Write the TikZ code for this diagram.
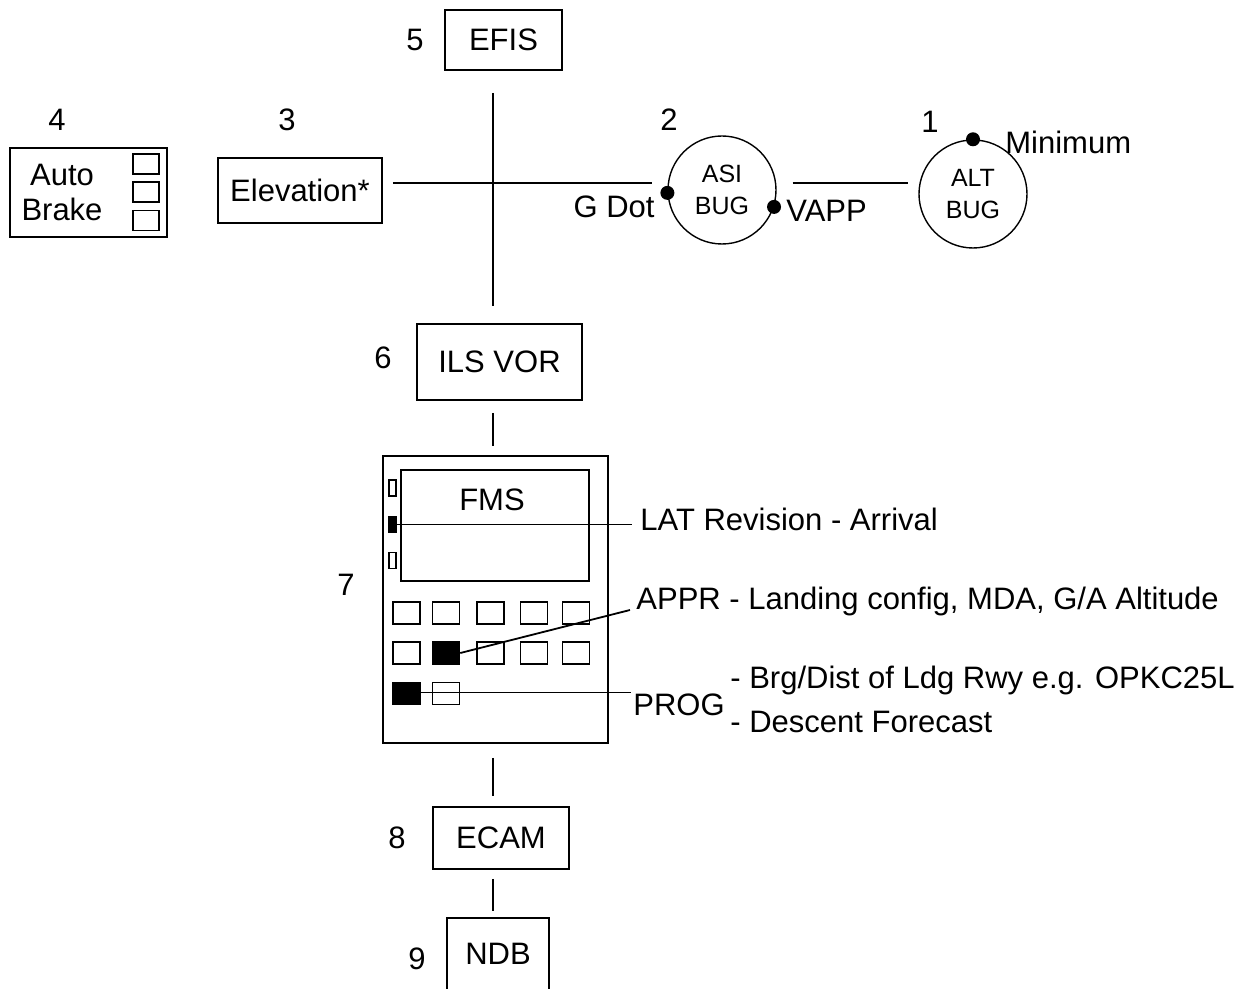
\documentclass[tikz,border=0pt]{standalone}
\usepackage{fontspec}
\setmainfont{Liberation Sans}
\usetikzlibrary{positioning}

\begin{document}
\begin{tikzpicture}[x=0.5pt,y=-0.5pt,font=\fontsize{15.5}{17.5}\selectfont,
  box/.style={draw,line width=0.8pt,inner sep=0pt},
  key/.style={draw,line width=0.8pt,inner sep=0pt,minimum width=13.5pt,minimum height=11pt},
  lsk/.style={draw,line width=0.8pt,inner sep=0pt,minimum width=3.5pt,minimum height=8pt},
  bug/.style={circle,draw,line width=0.7pt,inner sep=0pt,minimum size=54pt,align=center,
    font=\fontsize{12.5}{16}\selectfont},
  dot/.style={circle,fill,inner sep=0pt,minimum size=7pt},
  lbl/.style={inner sep=0pt},
  link/.style={line width=0.9pt}]
\useasboundingbox (0,0) rectangle (1248,989);
\clip (0,0) rectangle (1248,989);
\node[box,minimum width=58.5pt,minimum height=30pt] (efis) at (503.5,40) {EFIS};
\node[lbl] (num5) at (415,40) {5};
\node[box,minimum width=78.5pt,minimum height=44.5pt] (abrake) at (88.5,192.5) {};
\node[lbl,align=center] (abtext) at (62,192.5) {Auto\\Brake};
\node[box,minimum width=13pt,minimum height=10pt] (ab1) at (146,164) {};
\node[box,minimum width=13pt,minimum height=10pt] (ab2) at (146,192) {};
\node[box,minimum width=13pt,minimum height=10pt] (ab3) at (146,220.5) {};
\node[lbl] (num4) at (57,120) {4};
\node[box,minimum width=82pt,minimum height=32.5pt] (elev) at (300,190.5) {Elevation*};
\node[lbl] (num3) at (287,120) {3};
\node[bug] (asi) at (722,190) {ASI\\BUG};
\node[lbl] (num2) at (669,120) {2};
\node[bug] (alt) at (973,194) {ALT\\BUG};
\node[lbl] (num1) at (930,122) {1};
\node[dot] (gdot) at (asi.183) {};
\node[dot] (vapp) at (asi.342) {};
\node[dot] (mini) at (alt.90) {};
\node[lbl,anchor=east] (gdotlbl) at (655,207) {G Dot};
\node[lbl,anchor=west] (vapplbl) at (786,211) {VAPP};
\node[lbl,anchor=west] (minilbl) at (1005,142) {Minimum};
\coordinate (hub) at (493,183);
\draw[link,shorten <=5pt,shorten >=7.5pt] (elev.east |- hub) -- (asi.west |- hub);
\draw[link,shorten <=8pt,shorten >=5pt] (asi.east |- hub) -- (alt.west |- hub);
\node[box,minimum width=82.5pt,minimum height=38pt] (ils) at (499.5,362) {ILS VOR};
\node[lbl] (num6) at (383,358) {6};
\draw[link,shorten <=11pt,shorten >=8.5pt] (hub |- efis.south) -- (hub |- ils.north);
\node[box,minimum width=112.5pt,minimum height=143.5pt] (fms) at (495.5,599.5) {};
\node[box,minimum width=94pt,minimum height=55.5pt] (screen) at (495,525.5) {};
\node[lbl] (fmstext) at (492,500) {FMS};
\node[lbl] (num7) at (346,585) {7};
\node[lsk] (lk1) at (392.5,488) {};
\node[lsk,fill] (lk2) at (392.5,524.5) {};
\node[lsk] (lk3) at (392.5,560.5) {};
\foreach \c/\x in {1/406.5,2/446,3/490.5,4/534,5/576}{
  \node[key] (k-1-\c) at (\x,613) {};
  \node[key] (k-2-\c) at (\x,653) {};
}
\node[key] (k-3-1) at (406.5,693.5) {};
\node[key] (k-3-2) at (446,693.5) {};
\fill (k-2-2.south west) rectangle (k-2-2.north east);
\fill (k-3-1.south west) rectangle (k-3-1.north east);
\node[lbl,anchor=west] (latlbl) at (640,519) {LAT Revision - Arrival};
\draw[link,shorten >=4pt] (lk2.east) -- (lk2 -| latlbl.west);
\node[lbl,anchor=west] (apprlbl) at (636,601) {APPR - Landing config, MDA, G/A Altitude};
\coordinate (apprend) at (630,610);
\draw[link] (k-2-2.east) -- (apprend);
\node[lbl,anchor=west] (proglbl) at (633,705) {PROG};
\coordinate (progend) at (631,692.5);
\draw[link] (k-3-1.east |- progend) -- (progend);
\node[lbl,anchor=west] (brglbl) at (730,680) {- Brg/Dist of Ldg Rwy e.g. OPKC25L};
\node[lbl,anchor=west] (desclbl) at (730,722) {- Descent Forecast};
\draw[link,shorten <=6pt,shorten >=4.5pt] (hub |- ils.south) -- (hub |- fms.north);
\node[box,minimum width=68pt,minimum height=31pt] (ecam) at (501,838) {ECAM};
\node[lbl] (num8) at (397,838) {8};
\draw[link,shorten <=7pt,shorten >=5pt] (hub |- fms.south) -- (hub |- ecam.north);
\node[box,anchor=base,minimum width=51pt,text height=23.25pt,text depth=22.75pt] (ndb) at (498,964.5) {NDB};
\node[lbl] (num9) at (417,959) {9};
\draw[link,shorten <=4.5pt,shorten >=3pt] (hub |- ecam.south) -- (hub |- ndb.north);
\end{tikzpicture}
\end{document}
